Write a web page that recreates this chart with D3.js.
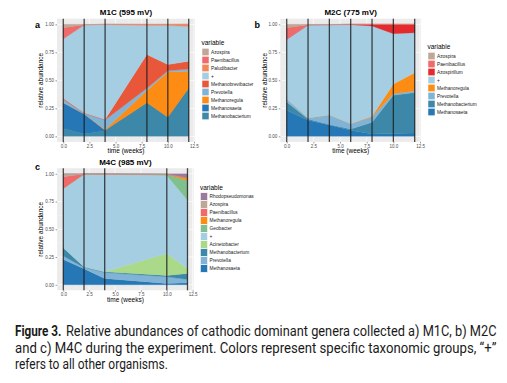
<!DOCTYPE html>
<html><head><meta charset="utf-8">
<script src="https://cdn.jsdelivr.net/npm/d3@7"></script>
<style>
html,body{margin:0;padding:0;background:#fff;}
svg{display:block;}
text{font-family:"Liberation Sans",Arial,sans-serif;}
</style></head>
<body>
<script>
// ---------- DATA ----------
// Panel a (M1C)
const timesA = [0, 2, 4, 8, 10, 12];
const legendA = ["Azospira","Paenibacillus","Paludibacter","+","Methanobrevibacter","Prevotella","Methanoregula","Methanosaeta","Methanobacterium"];
const valuesA = [
  [0.03, 0.003, 0.0, 0.0, 0.0, 0.0],        // Azospira
  [0.10, 0.002, 0.0, 0.002, 0.002, 0.0],    // Paenibacillus
  [0.0, 0.0, 0.003, 0.008, 0.008, 0.02],    // Paludibacter
  [0.53, 0.785, 0.847, 0.26, 0.35, 0.31],   // +
  [0.01, 0.005, 0.005, 0.30, 0.055, 0.07],  // Methanobrevibacter
  [0.03, 0.005, 0.085, 0.02, 0.01, 0.02],   // Prevotella
  [0.0, 0.0, 0.005, 0.11, 0.405, 0.15],     // Methanoregula
  [0.23, 0.18, 0.005, 0.0, 0.0, 0.0],       // Methanosaeta
  [0.07, 0.02, 0.05, 0.30, 0.17, 0.43]      // Methanobacterium
];
// Panel b (M2C)
const timesB = [0, 2, 4, 6, 8, 10, 12];
const legendB = ["Azospira","Paenibacillus","Azospirillum","+","Methanoregula","Prevotella","Methanobacterium","Methanosaeta"];
const valuesB = [
  [0.03, 0.003, 0.003, 0.0, 0.0, 0.0, 0.0],          // Azospira
  [0.104, 0.002, 0.0, 0.0, 0.0, 0.0, 0.0],           // Paenibacillus
  [0.0, 0.0, 0.0, 0.003, 0.015, 0.084, 0.075],       // Azospirillum
  [0.532, 0.831, 0.807, 0.884, 0.807, 0.45, 0.358],  // +
  [0.0, 0.0, 0.0, 0.0, 0.005, 0.086, 0.162],         // Methanoregula
  [0.027, 0.009, 0.085, 0.048, 0.048, 0.013, 0.015], // Prevotella
  [0.074, 0.012, 0.005, 0.01, 0.105, 0.343, 0.36],   // Methanobacterium
  [0.233, 0.143, 0.10, 0.055, 0.02, 0.024, 0.03]     // Methanosaeta
];
// Panel c (M4C)
const timesC = [0, 2, 4, 10, 12];
const legendC = ["Rhodopseudomonas","Azospira","Paenibacillus","Methanoregula","Geobacter","+","Acinetobacter","Methanobacterium","Prevotella","Methanosaeta"];
const valuesC = [
  [0.0, 0.0, 0.0, 0.003, 0.035],        // Rhodopseudomonas
  [0.027, 0.002, 0.003, 0.004, 0.0],    // Azospira
  [0.105, 0.001, 0.0, 0.0, 0.0],        // Paenibacillus
  [0.0, 0.0, 0.0, 0.0, 0.025],          // Methanoregula
  [0.0, 0.0, 0.0, 0.008, 0.177],        // Geobacter
  [0.535, 0.835, 0.88, 0.703, 0.616],   // +
  [0.0, 0.0, 0.0, 0.198, 0.045],        // Acinetobacter
  [0.073, 0.006, 0.007, 0.012, 0.054],  // Methanobacterium
  [0.032, 0.012, 0.053, 0.06, 0.03],    // Prevotella
  [0.228, 0.144, 0.057, 0.012, 0.018]   // Methanosaeta
];
const yTicks = [0, 0.25, 0.5, 0.75, 1];
const xTicks = [0, 2.5, 5, 7.5, 10, 12.5];
const captionLabel = "Figure 3.";
const captionLines = [
  "Relative abundances of cathodic dominant genera collected a) M1C, b) M2C",
  "and c) M4C during the experiment. Colors represent specific taxonomic groups, \u201c+\u201d",
  "refers to all other organisms."
];

// ---------- STYLE ----------
const colors = {
  "Rhodopseudomonas":"#9a7b9e",
  "Azospira":"#bea797",
  "Paenibacillus":"#ef6a6a",
  "Paludibacter":"#f3875a",
  "Azospirillum":"#e52a2e",
  "+":"#a6cee3",
  "Methanobrevibacter":"#e9573b",
  "Prevotella":"#81b3d6",
  "Methanoregula":"#fd8c14",
  "Methanosaeta":"#2577b6",
  "Methanobacterium":"#3d88a9",
  "Geobacter":"#80bf8e",
  "Acinetobacter":"#a9d989"
};

const W = 507, H = 383;
const svg = d3.select("body").append("svg").attr("width", W).attr("height", H);

function panel(cfg){
  const {times, legend, values, title, letter, px0, px1, py0, py1, lx, ly, ltx, lty, axTitleX} = cfg;
  const x = d3.scaleLinear().domain([-0.6, 12.6]).range([px0, px1]);
  const y = d3.scaleLinear().domain([-0.05, 1.05]).range([py1, py0]);
  const g = svg.append("g");
  g.append("rect").attr("x", px0).attr("y", py0).attr("width", px1-px0).attr("height", py1-py0).attr("fill", "#ebebeb");
  const minorY = [0.125, 0.375, 0.625, 0.875];
  const minorX = [1.25, 3.75, 6.25, 8.75, 11.25];
  g.selectAll(".gmy").data(minorY).join("line").attr("x1", px0).attr("x2", px1)
    .attr("y1", d=>y(d)).attr("y2", d=>y(d)).attr("stroke", "#f5f5f5").attr("stroke-width", 0.4);
  g.selectAll(".gmx").data(minorX).join("line").attr("y1", py0).attr("y2", py1)
    .attr("x1", d=>x(d)).attr("x2", d=>x(d)).attr("stroke", "#f5f5f5").attr("stroke-width", 0.4);
  g.selectAll(".gy").data(yTicks).join("line").attr("x1", px0).attr("x2", px1)
    .attr("y1", d=>y(d)).attr("y2", d=>y(d)).attr("stroke", "#fff").attr("stroke-width", 0.7);
  g.selectAll(".gx").data(xTicks).join("line").attr("y1", py0).attr("y2", py1)
    .attr("x1", d=>x(d)).attr("x2", d=>x(d)).attr("stroke", "#fff").attr("stroke-width", 0.7);
  const rows = times.map((t, i) => {
    const r = {t};
    legend.forEach((k, j) => r[k] = values[j][i]);
    return r;
  });
  const keysBottomUp = legend.slice().reverse();
  const stacked = d3.stack().keys(keysBottomUp)(rows);
  const area = d3.area().x(d => x(d.data.t)).y0(d => y(d[0])).y1(d => y(d[1]));
  g.selectAll(".ar").data(stacked).join("path").attr("d", area)
    .attr("fill", d => colors[d.key]).attr("stroke", d => colors[d.key]).attr("stroke-width", 0.3);
  g.selectAll(".vl").data(times).join("line").attr("x1", d=>x(d)).attr("x2", d=>x(d))
    .attr("y1", py0).attr("y2", py1).attr("stroke", "#1a1a1a").attr("stroke-opacity", 0.8).attr("stroke-width", 1.3);
  const ax = g.append("g").attr("transform", `translate(${px0},0)`)
    .call(d3.axisLeft(y).tickValues(yTicks).tickFormat(d3.format(".2f")).tickSize(1.5).tickPadding(1.5));
  const bx = g.append("g").attr("transform", `translate(0,${py1})`)
    .call(d3.axisBottom(x).tickValues(xTicks).tickFormat(d3.format(".1f")).tickSize(1.5).tickPadding(1.2));
  [ax, bx].forEach(a => {
    a.select(".domain").remove();
    a.selectAll(".tick line").attr("stroke", "#333").attr("stroke-width", 0.5);
    a.selectAll(".tick text").attr("fill", "#4d4d4d").style("font-size", "4.5px").style("font-family", '"Liberation Sans",Arial,sans-serif');
  });
  g.append("text").attr("x", (px0+px1)/2).attr("y", py0-3.5).attr("text-anchor", "middle")
    .style("font-size", "8px").style("font-weight", "bold").text(title);
  g.append("text").attr("x", (px0+px1)/2).attr("y", py1+11.5).attr("text-anchor", "middle")
    .style("font-size", "6.5px").text("time (weeks)");
  g.append("text").attr("transform", `translate(${axTitleX},${(py0+py1)/2}) rotate(-90)`).attr("text-anchor", "middle")
    .style("font-size", "6.5px").text("relative abundance");
  g.append("text").attr("x", ltx).attr("y", lty).style("font-size", "9px").style("font-weight", "bold").text(letter);
  const lg = g.append("g");
  lg.append("text").attr("x", lx).attr("y", ly+2.3).style("font-size", "6.5px").text("variable");
  const it = lg.selectAll(".li").data(legend).join("g").attr("transform", (d, i) => `translate(${lx},${ly + 9 + i*8})`);
  it.append("rect").attr("x", 0.5).attr("y", -3.75).attr("width", 7).attr("height", 7.5)
    .attr("fill", d => colors[d]).attr("stroke", "#fff").attr("stroke-width", 0.5);
  it.append("text").attr("x", 9.5).attr("y", 1.7).style("font-size", "4.8px").attr("fill", "#1a1a1a").text(d => d);
}

panel({times: timesA, legend: legendA, values: valuesA, title: "M1C (595 mV)", letter: "a",
  px0: 57, px1: 195, py0: 18.7, py1: 141.9, lx: 201.5, ly: 43, ltx: 35, lty: 27.5, axTitleX: 43});
panel({times: timesB, legend: legendB, values: valuesB, title: "M2C (775 mV)", letter: "b",
  px0: 280.3, px1: 421.1, py0: 18.7, py1: 141.9, lx: 427.5, ly: 47, ltx: 254.5, lty: 27.5, axTitleX: 266.5});
panel({times: timesC, legend: legendC, values: valuesC, title: "M4C (985 mV)", letter: "c",
  px0: 57.1, px1: 193.7, py0: 168.2, py1: 290.3, lx: 200, ly: 187.5, ltx: 35, lty: 169.5, axTitleX: 43});

// caption: condensed by horizontal scaling so each line fits its measured width
const capFont = 'Roboto,"Liberation Sans",sans-serif';
const cap = svg.append("g").attr("fill", "#1a1a1a");
function capText(str, x, y, len, bold){
  const t = cap.append("text").attr("x", 0).attr("y", 0)
    .style("font-family", capFont).style("font-size", "14.5px").style("font-weight", bold ? "bold" : "normal").text(str);
  const nat = t.node().getComputedTextLength();
  t.attr("transform", `translate(${x},${y}) scale(${len / nat},1)`);
}
capText(captionLabel, 15, 336, 46.5, true);
capText(captionLines[0], 66, 336, 431, false);
capText(captionLines[1], 15, 352.7, 482, false);
capText(captionLines[2], 15, 369.3, 153, false);
</script>
</body></html>
